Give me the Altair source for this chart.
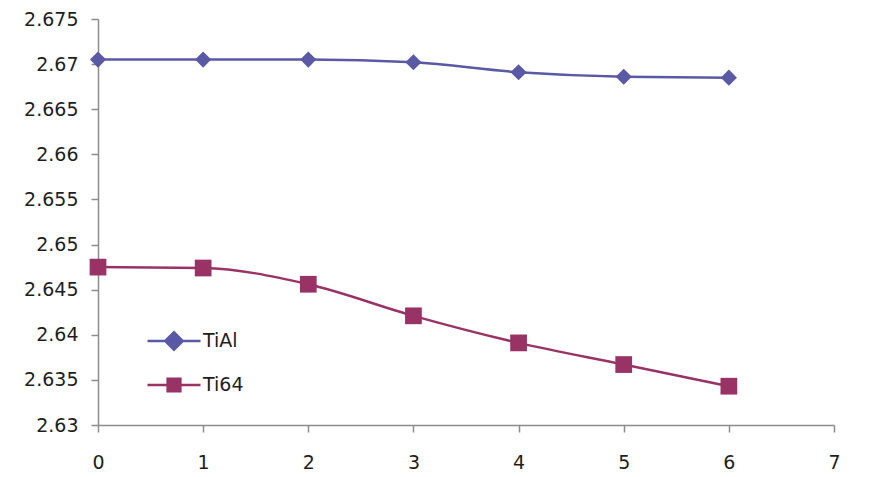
import altair as alt
import pandas as pd

x_vals = [0, 1, 2, 3, 4, 5, 6]
tial = [2.6705, 2.6705, 2.6705, 2.6702, 2.6691, 2.6686, 2.6685]
ti64 = [2.6475, 2.6474, 2.6456, 2.6421, 2.6391, 2.6367, 2.6343]
series_names = ["TiAl", "Ti64"]
line_colors = ["#5959A6", "#993366"]
y_ticks = [2.63, 2.635, 2.64, 2.645, 2.65, 2.655, 2.66, 2.665, 2.67, 2.675]
x_ticks = [0, 1, 2, 3, 4, 5, 6, 7]

rows = []
for xv, a, b in zip(x_vals, tial, ti64):
    rows.append({"x": xv, "y": a, "series": "TiAl"})
    rows.append({"x": xv, "y": b, "series": "Ti64"})
df = pd.DataFrame(rows)

FONT = "DejaVu Sans"
AX = "#8c8c8c"
TXT = "#1e1e1e"

X = alt.X("x:Q", scale=alt.Scale(domain=[0, 7], nice=False, zero=False),
          axis=alt.Axis(values=x_ticks, title=None, grid=False, format="d", labelFlush=False,
                        domainColor=AX, tickColor=AX, tickSize=7, domainWidth=1.5, tickWidth=1.5,
                        labelPadding=21, labelFontSize=19, labelColor=TXT, labelFont=FONT))
Y = alt.Y("y:Q", scale=alt.Scale(domain=[2.63, 2.675], nice=False, zero=False),
          axis=alt.Axis(values=y_ticks, title=None, grid=False, format=".3~f", labelFlush=False,
                        domainColor=AX, tickColor=AX, tickSize=7, domainWidth=1.5, tickWidth=1.5,
                        labelPadding=13, labelFontSize=19, labelColor=TXT, labelFont=FONT))

base = alt.Chart(df)
layers = []
shapes = ["diamond", "square"]
sizes = [260, 280]
for name, col, shp, sz in zip(series_names, line_colors, shapes, sizes):
    sub = base.transform_filter(alt.datum.series == name)
    layers.append(sub.mark_line(interpolate="monotone", strokeWidth=2.5, color=col).encode(x=X, y=Y))
    layers.append(sub.mark_point(filled=True, shape=shp, size=sz, color=col, opacity=1).encode(x=X, y=Y))

legend_paths = [
    "M-1,0L1,0M-0.33,0L0,-0.33L0.33,0L0,0.33Z",
    "M-1,0L1,0M-0.24,-0.24L0.24,-0.24L0.24,0.24L-0.24,0.24Z",
]
leg = alt.Legend(title=None, orient="none", legendX=48, legendY=294,
                 symbolSize=2809, symbolStrokeWidth=2.5, labelFontSize=19,
                 labelFont=FONT, labelColor=TXT, labelOffset=1, rowPadding=2)
dummy = base.transform_filter("false").mark_point(filled=True, opacity=1).encode(
    x=X, y=Y,
    fill=alt.Fill("series:N", scale=alt.Scale(domain=series_names, range=line_colors), legend=leg),
    stroke=alt.Stroke("series:N", scale=alt.Scale(domain=series_names, range=line_colors), legend=leg),
    shape=alt.Shape("series:N", scale=alt.Scale(domain=series_names, range=legend_paths), legend=leg),
)
layers.append(dummy)

chart = alt.layer(*layers).properties(
    width=736, height=406,
    autosize=alt.AutoSizeParams(type="none"),
    padding={"left": 90, "top": 11, "right": 20, "bottom": 52},
    background="white",
).configure_view(stroke=None)

chart.save("out.html", embed_options={"renderer": "svg", "actions": False})
